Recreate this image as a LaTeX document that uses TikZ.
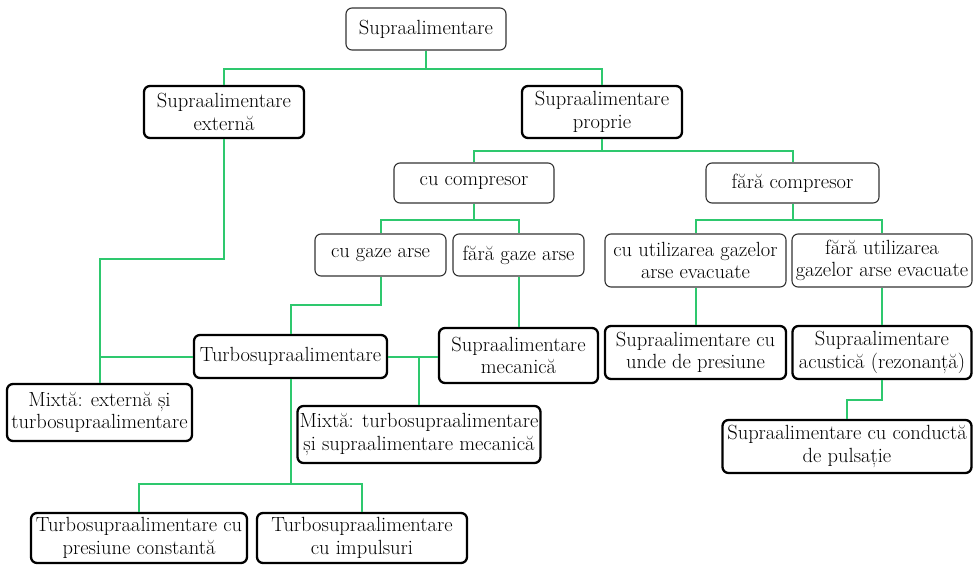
\documentclass[tikz,border=0pt]{standalone}
\usepackage{fontspec}
\setmainfont{Latin Modern Roman}
\definecolor{lineg}{RGB}{46,200,110}
\definecolor{thinb}{RGB}{50,50,50}
\tikzset{
  base/.style={rounded corners=6pt, inner sep=0pt, align=center, font=\fontsize{20.5}{22.5}\selectfont},
  thinbox/.style={base, draw=thinb, line width=1.1pt},
  thickbox/.style={base, draw=black, line width=2.3pt},
  conn/.style={draw=lineg, line width=2pt}
}
\begin{document}
\begin{tikzpicture}[x=1pt,y=-1pt]
\useasboundingbox (0,0) rectangle (973,565);
\node[thinbox, minimum width=160, minimum height=42] (root) at (426,29) {Supraalimentare};
\node[thickbox, minimum width=160, minimum height=52] (ext) at (224,112) {Supraalimentare\\externă};
\node[thickbox, minimum width=160, minimum height=52] (prop) at (602,112) {Supraalimentare\\proprie};
\node[thinbox, minimum width=160, minimum height=40] (cuc) at (474,183) {cu compresor};
\node[thinbox, minimum width=173, minimum height=40] (farac) at (792.5,183) {fără compresor};
\node[thinbox, minimum width=131, minimum height=42] (cug) at (380.5,255) {cu gaze arse};
\node[thinbox, minimum width=131, minimum height=42] (farag) at (518.5,255) {fără gaze arse};
\node[thinbox, minimum width=181, minimum height=53] (cuu) at (695.5,260.5) {cu utilizarea gazelor\\arse evacuate};
\node[thinbox, minimum width=180, minimum height=53] (farau) at (882,260.5) {fără utilizarea\\gazelor arse evacuate};
\node[thickbox, minimum width=193, minimum height=43] (turbo) at (290.5,356.5) {Turbosupraalimentare};
\node[thickbox, minimum width=159, minimum height=55] (mec) at (518.5,355.5) {Supraalimentare\\mecanică};
\node[thickbox, minimum width=181, minimum height=53] (unde) at (695.5,352.5) {Supraalimentare cu\\unde de presiune};
\node[thickbox, minimum width=179, minimum height=53] (acu) at (882,352.5) {Supraalimentare\\acustică (rezonanță)};
\node[thickbox, minimum width=185, minimum height=57] (mixe) at (99.5,412.5) {Mixtă: externă și\\turbosupraalimentare};
\node[thickbox, minimum width=243, minimum height=57] (mixt) at (419,434.5) {Mixtă: turbosupraalimentare\\și supraalimentare mecanică};
\node[thickbox, minimum width=249, minimum height=53] (cond) at (847,446.5) {Supraalimentare cu conductă\\de pulsație};
\node[thickbox, minimum width=216, minimum height=50] (tpc) at (139,538) {Turbosupraalimentare cu\\presiune constantă};
\node[thickbox, minimum width=210, minimum height=50] (timp) at (362,538) {Turbosupraalimentare\\cu impulsuri};

\draw[conn] (root.south) -- ++(0,18) -| (ext.north);
\draw[conn] (root.south) -- ++(0,18) -| (prop.north);
\draw[conn] (ext.south) -- ++(0,120) -| (mixe.north);
\draw[conn] (turbo.west) -- (turbo.west -| mixe.north);
\draw[conn] (prop.south) -- ++(0,12) -| (cuc.north);
\draw[conn] (prop.south) -- ++(0,12) -| (farac.north);
\draw[conn] (cuc.south) -- ++(0,16) -| (cug.north);
\draw[conn] (cuc.south) -- ++(0,16) -| (farag.north);
\draw[conn] (farac.south) -- ++(0,16) -| (cuu.north);
\draw[conn] (farac.south) -- ++(0,16) -| (farau.north);
\draw[conn] (cug.south) -- ++(0,28) -| (turbo.north);
\draw[conn] (farag.south) -- (mec.north);
\draw[conn] (cuu.south) -- (unde.north);
\draw[conn] (farau.south) -- (acu.north);
\draw[conn] (acu.south) -- ++(0,20) -| (cond.north);
\draw[conn] (turbo.east) -- (turbo.east -| mec.west);
\draw[conn] (mixt.north) -- (mixt.north |- turbo.east);
\draw[conn] (turbo.south) -- ++(0,105) -| (tpc.north);
\draw[conn] (turbo.south) -- ++(0,105) -| (timp.north);
\end{tikzpicture}
\end{document}
